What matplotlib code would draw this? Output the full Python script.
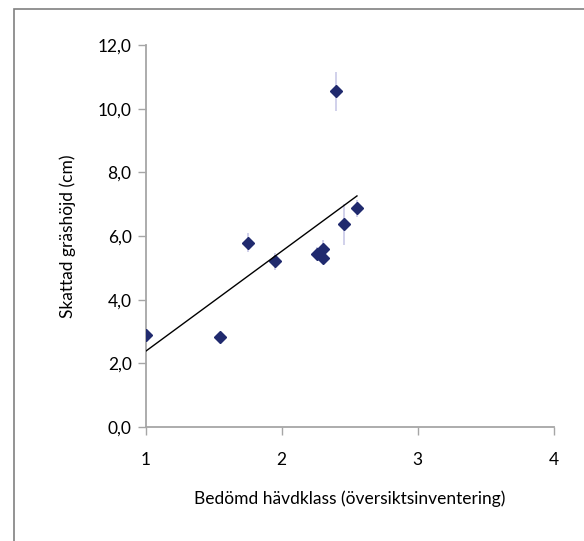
import numpy as np
import matplotlib.pyplot as plt
from matplotlib.patches import Rectangle
from matplotlib.ticker import FuncFormatter

plt.rcParams['font.family'] = ['Lato', 'DejaVu Sans']

# Bedömd hävdklass vs skattad gräshöjd
havdklass = np.array([1.0, 1.547, 1.755, 1.951, 2.26, 2.30, 2.30, 2.456, 2.553, 2.40])
grashojd = np.array([2.88, 2.84, 5.79, 5.21, 5.44, 5.58, 5.32, 6.37, 6.87, 10.54])
fel = np.array([0.1, 0.1, 0.29, 0.27, 0.2, 0.3, 0.2, 0.64, 0.26, 0.6])

xticks = [1, 2, 3, 4]
yticks = [0, 2, 4, 6, 8, 10, 12]

fig = plt.figure(figsize=(5.84, 5.41), dpi=100)
# chart area border (only left and top visible in the crop)
fig.patches.append(Rectangle((14 / 584, -0.1), 1.2, 1 - 8.5 / 541 + 0.1,
                             transform=fig.transFigure, fill=False,
                             edgecolor='#808080', linewidth=1.2))

ax = fig.add_axes([145.5 / 584, 1 - 427 / 541, (554 - 145.5) / 584, (427 - 45) / 541])

ax.errorbar(havdklass, grashojd, yerr=fel, fmt='none', ecolor='#c9c9e8',
            elinewidth=1.2, capsize=0, zorder=2)
ax.plot(havdklass, grashojd, linestyle='none', marker='D', markersize=6.6,
        color='#202a6e', zorder=3)

k, m = np.polyfit(havdklass, grashojd, 1)
xl = np.array([havdklass.min(), havdklass.max()])
ax.plot(xl, k * xl + m, color='black', linewidth=1, zorder=4)

ax.set_xlim(1, 4)
ax.set_ylim(0, 12)
ax.set_xticks(xticks)
ax.set_yticks(yticks)
ax.yaxis.set_major_formatter(FuncFormatter(lambda v, p: f'{v:.1f}'.replace('.', ',')))

for s in ['top', 'right']:
    ax.spines[s].set_visible(False)
for s in ['left', 'bottom']:
    ax.spines[s].set_color('#a6a6a6')
    ax.spines[s].set_linewidth(1.3)
ax.tick_params(axis='both', direction='out', length=6, width=1, color='#a6a6a6',
               labelsize=12.5, labelcolor='black')
ax.tick_params(axis='x', pad=12)
ax.tick_params(axis='y', pad=4)

ax.set_xlabel('Bedömd hävdklass (översiktsinventering)', fontsize=12.5, labelpad=16)
ax.set_ylabel('Skattad gräshöjd (cm)', fontsize=12.5, labelpad=16)

fig.savefig('out.png', dpi=100)
